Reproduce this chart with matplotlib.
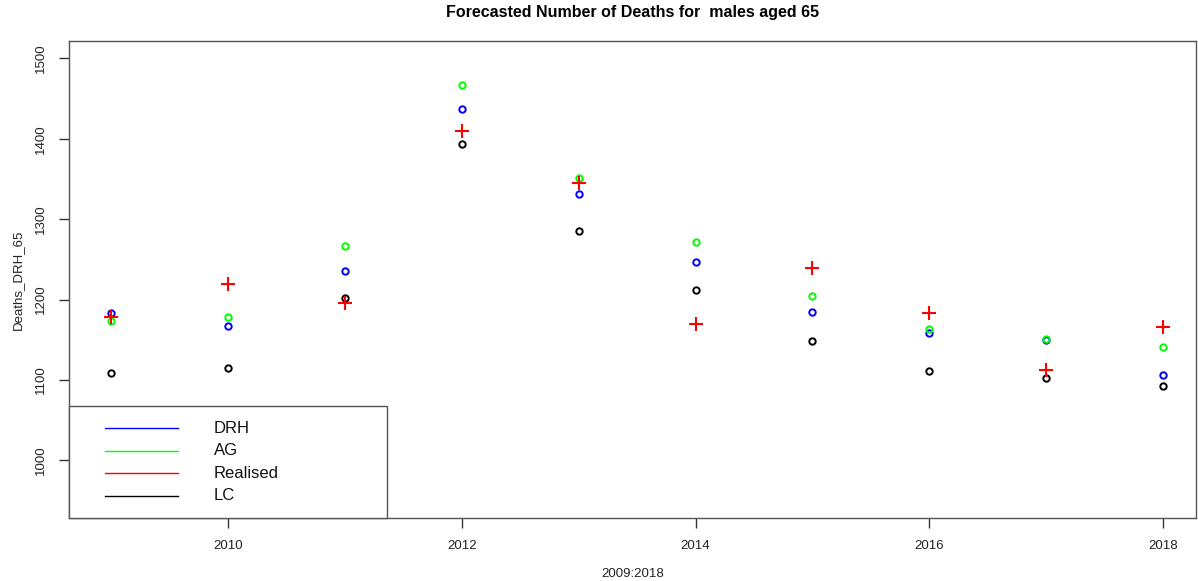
import matplotlib
matplotlib.use("Agg")
import matplotlib.pyplot as plt
from matplotlib.patches import Rectangle

plt.rcParams['font.family'] = ['Liberation Sans', 'DejaVu Sans']

years = [2009, 2010, 2011, 2012, 2013, 2014, 2015, 2016, 2017, 2018]
drh = [1183.6, 1167.4, 1235.0, 1437.3, 1330.8, 1247.0, 1184.4, 1158.7, 1150.3, 1105.7]
ag = [1173.6, 1178.6, 1266.9, 1467.2, 1351.5, 1271.0, 1204.4, 1163.7, 1151.3, 1140.5]
realised = [1177.9, 1219.3, 1196.0, 1410.0, 1344.9, 1169.5, 1239.4, 1182.8, 1112.7, 1165.4]
lc = [1109.0, 1114.8, 1201.5, 1393.8, 1285.2, 1211.4, 1148.8, 1111.4, 1102.7, 1092.8]

legend_labels = ["DRH", "AG", "Realised", "LC"]
legend_colors = ["#0000ff", "#00ff00", "#ff0000", "#000000"]

fig = plt.figure(figsize=(11.98, 5.81), dpi=100)
ax = fig.add_axes([0.058, 0.108, 0.9403, 0.822])

circ = dict(marker='o', linestyle='none', markersize=4.6, markerfacecolor='none', markeredgewidth=1.4)
ax.plot(years, lc, markeredgecolor='#000000', **circ)
ax.plot(years, drh, markeredgecolor='#0000ff', **circ)
ax.plot(years, ag, markeredgecolor='#00ff00', **circ)
ax.plot(years, realised, marker='+', linestyle='none', markersize=9.5, color='#ff0000', markeredgewidth=1.5)

ax.set_xlim(2008.645, 2018.28)
ax.set_ylim(928, 1522)
ax.set_xticks([2010, 2012, 2014, 2016, 2018])
ax.set_yticks([1000, 1100, 1200, 1300, 1400, 1500])
ax.tick_params(axis='both', direction='out', length=7, width=1, colors='#333333', labelsize=9.5, labelcolor='#222222')
ax.tick_params(axis='x', pad=9)
for lab in ax.get_yticklabels():
    lab.set_rotation(90)
    lab.set_va('center')
ax.tick_params(axis='y', pad=9)
for s in ax.spines.values():
    s.set_color('#555555')
    s.set_linewidth(1.0)

ax.set_title("Forecasted Number of Deaths for  males aged 65", fontsize=11.5, fontweight='bold', pad=17)
ax.set_xlabel("2009:2018", fontsize=9.5, color='#222222', labelpad=11)
ax.set_ylabel("Deaths_DRH_65", fontsize=9.5, color='#222222', labelpad=8)

# legend drawn in axes-fraction coordinates
ax.add_patch(Rectangle((0.0, 0.0), 0.2818, 0.2358, transform=ax.transAxes, facecolor='white',
                       edgecolor='#555555', linewidth=1.0, zorder=5, clip_on=False))
row_y = [0.1884, 0.1415, 0.0942, 0.0473]
for lab, col, yy in zip(legend_labels, legend_colors, row_y):
    ax.plot([0.0315, 0.0963], [yy, yy], transform=ax.transAxes, color=col, lw=1.0, zorder=6)
    ax.text(0.128, yy, lab, transform=ax.transAxes, fontsize=12, color='#111111', va='center', ha='left', zorder=6)

fig.savefig("out.png", dpi=100)
